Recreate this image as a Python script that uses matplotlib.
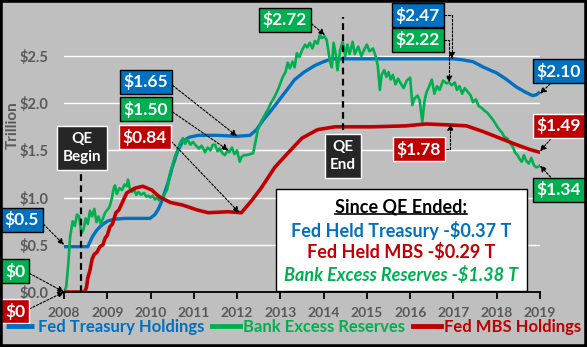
import numpy as np
import matplotlib
matplotlib.use("Agg")
import matplotlib.pyplot as plt
from matplotlib.patches import Rectangle
from matplotlib.lines import Line2D

plt.rcParams['font.family'] = ['Lato', 'DejaVu Sans']
plt.rcParams['font.weight'] = 'bold'

# ---- data (trillions of $) ----
treasury_years = [2008.00, 2008.55, 2008.65, 2008.75, 2008.85, 2009.00, 2009.15, 2009.40, 2009.99,
                  2010.10, 2010.17, 2010.25, 2010.30, 2010.40, 2010.50, 2010.63, 2010.75, 2010.90,
                  2011.10, 2011.50, 2012.00, 2012.30, 2012.45, 2012.60, 2012.80, 2013.00, 2013.20,
                  2013.33, 2013.55, 2013.80, 2014.00, 2014.19, 2014.50, 2015.50, 2016.50, 2017.00,
                  2017.20, 2017.45, 2017.70, 2018.00, 2018.20, 2018.46, 2018.65, 2018.83, 2018.92, 2019.00]
treasury_vals = [0.48, 0.48, 0.58, 0.65, 0.70, 0.75, 0.77, 0.78, 0.78,
                 0.82, 0.87, 0.95, 1.02, 1.15, 1.32, 1.50, 1.60, 1.64,
                 1.66, 1.66, 1.65, 1.66, 1.72, 1.82, 1.93, 2.05, 2.17,
                 2.25, 2.33, 2.40, 2.44, 2.47, 2.47, 2.47, 2.47, 2.47,
                 2.46, 2.44, 2.38, 2.32, 2.26, 2.17, 2.12, 2.08, 2.09, 2.12]

reserves_years = [2008.00, 2008.05, 2008.10, 2008.14, 2008.20, 2008.25, 2008.30, 2008.35, 2008.40, 2008.45,
                  2008.50, 2008.55, 2008.60, 2008.65, 2008.70, 2008.75, 2008.80, 2008.85, 2008.90, 2008.95,
                  2009.00, 2009.05, 2009.10, 2009.15, 2009.18, 2009.22, 2009.28, 2009.34, 2009.40, 2009.45,
                  2009.48, 2009.52, 2009.57, 2009.62, 2009.67, 2009.72, 2009.78, 2009.85, 2009.90, 2009.95,
                  2010.00, 2010.05, 2010.10, 2010.15, 2010.20, 2010.25, 2010.30, 2010.38, 2010.45, 2010.50,
                  2010.56, 2010.62, 2010.68, 2010.75, 2010.80, 2010.85, 2010.92, 2010.98, 2011.05, 2011.12,
                  2011.18, 2011.26, 2011.32, 2011.38, 2011.44, 2011.49, 2011.55, 2011.60, 2011.66, 2011.72,
                  2011.78, 2011.82, 2011.88, 2011.94, 2012.00, 2012.06, 2012.10, 2012.16, 2012.22, 2012.30,
                  2012.37, 2012.42, 2012.48, 2012.55, 2012.62, 2012.71, 2012.78, 2012.87, 2012.95, 2013.03,
                  2013.08, 2013.12, 2013.17, 2013.22, 2013.28, 2013.33, 2013.38, 2013.44, 2013.50, 2013.57,
                  2013.62, 2013.68, 2013.74, 2013.80, 2013.86, 2013.91, 2013.96, 2014.02, 2014.07, 2014.12,
                  2014.16, 2014.19, 2014.23, 2014.28, 2014.32, 2014.38, 2014.44, 2014.50, 2014.55, 2014.60,
                  2014.67, 2014.72, 2014.80, 2014.87, 2014.95, 2015.00, 2015.06, 2015.14, 2015.20, 2015.25,
                  2015.30, 2015.34, 2015.40, 2015.45, 2015.50, 2015.55, 2015.60, 2015.66, 2015.72, 2015.78,
                  2015.85, 2015.92, 2016.00, 2016.05, 2016.10, 2016.17, 2016.22, 2016.28, 2016.33, 2016.38,
                  2016.44, 2016.50, 2016.56, 2016.62, 2016.68, 2016.76, 2016.84, 2016.90, 2016.96, 2017.03,
                  2017.08, 2017.14, 2017.20, 2017.26, 2017.33, 2017.40, 2017.45, 2017.52, 2017.58, 2017.65,
                  2017.72, 2017.78, 2017.85, 2017.92, 2018.00, 2018.06, 2018.12, 2018.18, 2018.24, 2018.30,
                  2018.37, 2018.42, 2018.48, 2018.54, 2018.58, 2018.63, 2018.68, 2018.74, 2018.80, 2018.86,
                  2018.92, 2018.97, 2019.00]
reserves_vals = [0.00, 0.05, 0.30, 0.58, 0.75, 0.70, 0.82, 0.80, 0.62, 0.66,
                 0.78, 0.72, 0.86, 0.80, 0.88, 0.74, 0.80, 0.72, 0.78, 0.84,
                 0.87, 0.90, 0.98, 1.10, 1.13, 1.04, 1.10, 1.08, 1.14, 1.12,
                 1.19, 1.10, 1.06, 1.09, 1.03, 1.06, 1.03, 1.05, 1.01, 1.02,
                 1.00, 1.02, 0.98, 1.00, 0.97, 1.00, 1.02, 1.08, 1.25, 1.33,
                 1.43, 1.50, 1.58, 1.63, 1.57, 1.62, 1.56, 1.59, 1.55, 1.52,
                 1.55, 1.48, 1.53, 1.50, 1.56, 1.56, 1.49, 1.52, 1.47, 1.45,
                 1.50, 1.48, 1.53, 1.46, 1.50, 1.38, 1.43, 1.45, 1.45, 1.46,
                 1.47, 1.58, 1.72, 1.80, 1.86, 1.93, 2.00, 2.07, 2.15, 2.25,
                 2.30, 2.33, 2.43, 2.37, 2.44, 2.38, 2.53, 2.49, 2.56, 2.62,
                 2.59, 2.64, 2.58, 2.66, 2.63, 2.72, 2.69, 2.71, 2.67, 2.52,
                 2.42, 2.38, 2.64, 2.52, 2.35, 2.56, 2.65, 2.50, 2.62, 2.52,
                 2.65, 2.52, 2.60, 2.50, 2.58, 2.62, 2.55, 2.58, 2.50, 2.40,
                 2.14, 2.30, 2.35, 2.28, 2.33, 2.25, 2.30, 2.20, 2.26, 2.21,
                 2.16, 2.24, 2.27, 1.98, 2.05, 2.08, 2.03, 1.80, 2.02, 2.12,
                 2.18, 2.25, 2.10, 2.18, 2.14, 2.24, 2.21, 2.22, 2.19, 2.22,
                 2.14, 2.18, 2.10, 2.16, 2.12, 2.08, 2.01, 2.04, 1.97, 1.95,
                 1.92, 1.90, 1.86, 1.82, 1.76, 1.72, 1.69, 1.64, 1.63, 1.58,
                 1.54, 1.48, 1.45, 1.40, 1.38, 1.45, 1.39, 1.36, 1.42, 1.34,
                 1.32, 1.33, 1.34]

mbs_years = [2008.00, 2008.48, 2008.52, 2008.55, 2008.60, 2008.65, 2008.70, 2008.76, 2008.83, 2008.90,
             2008.95, 2009.00, 2009.06, 2009.12, 2009.20, 2009.27, 2009.34, 2009.45, 2009.64, 2009.82,
             2010.03, 2010.20, 2010.45, 2010.75, 2011.07, 2011.33, 2011.79, 2012.10, 2012.34, 2012.57,
             2012.87, 2013.17, 2013.50, 2013.86, 2014.26, 2015.14, 2015.90, 2016.37, 2016.90, 2017.30,
             2017.68, 2018.07, 2018.46, 2018.76, 2019.00]
mbs_vals = [0.00, 0.00, 0.05, 0.15, 0.23, 0.35, 0.40, 0.42, 0.48, 0.50,
            0.57, 0.60, 0.69, 0.72, 0.84, 0.87, 0.94, 1.05, 1.10, 1.12,
            1.08, 1.01, 0.95, 0.92, 0.87, 0.84, 0.85, 0.84, 0.97, 1.11,
            1.32, 1.47, 1.63, 1.72, 1.75, 1.75, 1.76, 1.78, 1.77, 1.76,
            1.70, 1.63, 1.56, 1.51, 1.48]

qe_begin = 2008.40
qe_end = 2014.45

ann_labels = ["$0.5", "$0", "$0", "$1.65", "$1.50", "$0.84", "$2.72",
              "$2.47", "$2.22", "$1.78", "$2.10", "$1.49", "$1.34"]
ann_years = [2008.0, 2008.0, 2008.0, 2012.0, 2011.8, 2012.05, 2014.03,
             2016.96, 2016.9, 2016.93, 2019.0, 2019.0, 2019.0]
ann_values = [0.50, 0.00, 0.00, 1.65, 1.50, 0.84, 2.72,
              2.47, 2.22, 1.78, 2.10, 1.49, 1.34]
ann_series = ["t", "r", "m", "t", "r", "m", "r", "t", "r", "m", "t", "m", "r"]

summary_lines = ["Fed Held Treasury -$0.37 T", "Fed Held MBS -$0.29 T", "Bank Excess Reserves -$1.38 T"]

# ---- style ----
BG = "#BFBFBF"
BLUE = "#0070C0"
GREEN = "#00B050"
RED = "#C00000"
GRAY = "#595959"
colors = {"t": BLUE, "r": GREEN, "m": RED}

W, H = 587, 347
fig = plt.figure(figsize=(W / 100, H / 100), dpi=100, facecolor=BG)
ax = fig.add_axes([64 / W, 55 / H, 476 / W, 283.2 / H], facecolor=BG)

l1, = ax.plot(treasury_years, treasury_vals, color=BLUE, lw=2.4, solid_capstyle='butt')
l2, = ax.plot(reserves_years, reserves_vals, color=GREEN, lw=1.9, solid_joinstyle='round')
l3, = ax.plot(mbs_years, mbs_vals, color=RED, lw=2.6)

ax.set_xlim(2008, 2019)
ax.set_ylim(0, 3.0)
ax.set_xticks(range(2008, 2020))
ax.set_yticks([0, 0.5, 1.0, 1.5, 2.0, 2.5])
ax.set_yticklabels(["$0.0", "$0.5", "$1.0", "$1.5", "$2.0", "$2.5"])
ax.grid(axis='y', color='white', lw=1.0)
ax.set_axisbelow(True)
for s in ['top', 'right', 'left']:
    ax.spines[s].set_visible(False)
ax.spines['bottom'].set_color('black')
ax.spines['bottom'].set_linewidth(1.3)
ax.tick_params(axis='y', length=0, pad=11, labelsize=10.5, labelcolor=GRAY)
ax.tick_params(axis='x', length=5, width=1.3, direction='out', pad=6, labelsize=10, labelcolor=GRAY)

# QE markers
ax.vlines(qe_begin, 0, 1.27, colors='black', lw=1.6, linestyles=(0, (3, 2)), zorder=3)
ax.vlines(qe_end, 1.6, 2.91, colors='black', lw=1.6, linestyles=(0, (3, 2)), zorder=3)

qebox = dict(boxstyle='square,pad=0.35', fc='#262626', ec='white', lw=1)
fig.text(82 / W, 1 - 148 / H, "QE\nBegin", color='white', fontsize=11, ha='center', va='center',
         linespacing=1.45, bbox=qebox)
fig.text(343 / W, 1 - 156 / H, "QE\nEnd", color='white', fontsize=11, ha='center', va='center',
         linespacing=1.45, bbox=dict(boxstyle='square,pad=0.35', fc='#262626', ec='white', lw=1))

# value call-outs (box centre in pixels from top-left)
box_xy = [(22, 220), (15, 271), (15, 311), (146, 82), (146, 109), (145, 137), (285, 20),
          (418, 15), (418, 40), (419, 149), (559, 71), (559, 126), (559, 190)]
rel = [(1, 0.5)] * 10 + [(0.4, 0), (0.4, 0), (0.4, 1)]
for i, lab in enumerate(ann_labels):
    c = colors[ann_series[i]]
    ec = 'white' if c == RED else 'black'
    bx, by = box_xy[i]
    conn = "arc3"
    if i in (7, 8, 9):
        conn = "angle,angleA=0,angleB=90,rad=0"
    ax.annotate(lab, xy=(ann_years[i], ann_values[i]), xycoords='data',
                xytext=(bx, H - by), textcoords='figure pixels',
                ha='center', va='center', color='white', fontsize=12.5,
                bbox=dict(boxstyle='square,pad=0.22', fc=c, ec=ec, lw=1),
                arrowprops=dict(arrowstyle='-|>', color='black', lw=0.8, ls=(0, (2, 1.5)),
                                mutation_scale=9, shrinkA=0, shrinkB=0,
                                relpos=rel[i], connectionstyle=conn),
                annotation_clip=False, zorder=5)

# summary box
fig.patches.append(Rectangle((276 / W, 1 - 291 / H), 251 / W, 102 / H, transform=fig.transFigure,
                             fc='white', ec='black', lw=1, zorder=4))
t0 = fig.text(401 / W, 1 - 207 / H, "Since QE Ended:", color='black', fontsize=13,
              ha='center', va='center', zorder=5)
fig.text(401 / W, 1 - 230 / H, summary_lines[0], color=BLUE, fontsize=13, ha='center', va='center', zorder=5)
fig.text(401 / W, 1 - 252 / H, summary_lines[1], color=RED, fontsize=13, ha='center', va='center', zorder=5)
fig.text(401 / W, 1 - 275 / H, summary_lines[2], color=GREEN, fontsize=13, ha='center', va='center',
         style='italic', zorder=5)
fig.canvas.draw()
bb = t0.get_window_extent()
fig.add_artist(Line2D([bb.x0 / W, bb.x1 / W], [(H - 214) / H, (H - 214) / H], color='black', lw=1.2,
                      transform=fig.transFigure, zorder=5))

fig.text(13 / W, 1 - 125 / H, "Trillion", rotation=90, color=GRAY, fontsize=11, ha='center', va='center')

leg = fig.legend([l1, l2, l3], ["Fed Treasury Holdings", "Bank Excess Reserves", "Fed MBS Holdings"],
                 loc='center left', bbox_to_anchor=(6 / W, 20 / H), ncol=3, frameon=False,
                 fontsize=12, handlelength=1.7, handletextpad=0.2, columnspacing=0.45,
                 borderpad=0, borderaxespad=0)
for txt, c in zip(leg.get_texts(), [BLUE, GREEN, RED]):
    txt.set_color(c)
for h in leg.legend_handles:
    h.set_linewidth(3.5)

fig.patches.append(Rectangle((0, 0), 1, 1, transform=fig.transFigure, fill=False, ec='black', lw=4))

fig.savefig("out.png", dpi=100, facecolor=BG)
